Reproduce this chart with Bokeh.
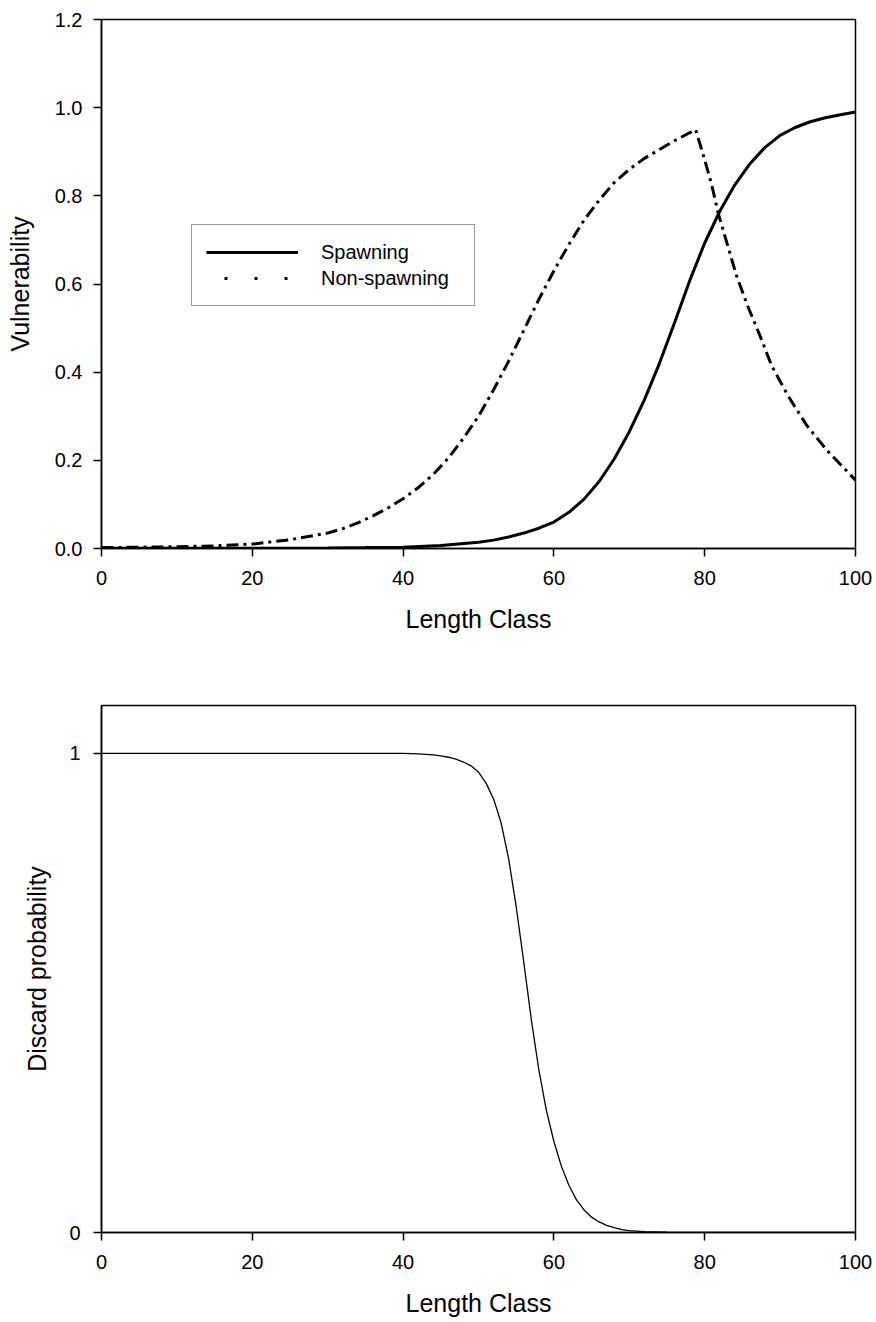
from bokeh.plotting import figure
from bokeh.models import (Range1d, FixedTicker, PrintfTickFormatter, Legend,
                          LegendItem, ColumnDataSource)
from bokeh.layouts import column
from bokeh.embed import file_html
from bokeh.resources import INLINE

# ---------------- data ----------------
x_ticks = [0, 20, 40, 60, 80, 100]
vuln_ticks = [0.0, 0.2, 0.4, 0.6, 0.8, 1.0, 1.2]
discard_ticks = [0, 1]

spawn_x = [0, 10, 20, 30, 35, 40, 45, 50, 52, 54, 56, 58, 60, 62, 64, 66, 68, 70,
           72, 74, 76, 78, 80, 82, 84, 86, 88, 90, 92, 94, 96, 98, 100]
spawn_y = [0.0005, 0.0006, 0.0008, 0.0012, 0.002, 0.003, 0.007, 0.014, 0.019,
           0.026, 0.035, 0.046, 0.06, 0.082, 0.112, 0.152, 0.203, 0.265, 0.337,
           0.42, 0.512, 0.607, 0.693, 0.765, 0.825, 0.873, 0.91, 0.937, 0.955,
           0.968, 0.977, 0.984, 0.99]

nonspawn_x = [0, 5, 10, 15, 20, 25, 30, 32, 34, 36, 38, 40, 42, 44, 46, 48, 50,
              52, 54, 56, 58, 60, 62, 64, 66, 68, 70, 72, 74, 76, 78, 78.8, 79.8,
              80.9, 81.8, 83, 84.2, 85.7, 87.3, 88.9, 91, 93.5, 96.2, 100]
nonspawn_y = [0.002, 0.003, 0.004, 0.006, 0.01, 0.02, 0.035, 0.045, 0.058, 0.074,
              0.092, 0.113, 0.138, 0.168, 0.205, 0.25, 0.30, 0.36, 0.425, 0.495,
              0.565, 0.63, 0.69, 0.745, 0.79, 0.83, 0.86, 0.885, 0.905, 0.925,
              0.943, 0.95, 0.893, 0.827, 0.76, 0.69, 0.62, 0.55, 0.484, 0.414,
              0.348, 0.28, 0.223, 0.155]

discard_x = [0, 10, 20, 30, 40, 42, 44, 45, 46, 47, 48, 49, 50, 51, 52, 53, 54,
             55, 56, 57, 58, 59, 60, 61, 62, 63, 64, 65, 66, 67, 68, 69, 70, 72,
             75, 80, 90, 100]
discard_y = [1.0, 1.0, 1.0, 1.0, 1.0, 0.999, 0.997, 0.995, 0.992, 0.988, 0.982,
             0.974, 0.961, 0.938, 0.905, 0.855, 0.78, 0.68, 0.565, 0.445, 0.34,
             0.255, 0.19, 0.138, 0.098, 0.068, 0.047, 0.032, 0.022, 0.015, 0.01,
             0.006, 0.004, 0.002, 0.0006, 0.0, 0.0, 0.0]

FONT = "Liberation Sans"
TICK_SIZE = "20px"
LABEL_SIZE = "25px"


def style(p, xlabel, ylabel):
    p.grid.visible = False
    p.outline_line_color = "black"
    p.outline_line_width = 1.5
    p.background_fill_color = "white"
    p.border_fill_color = "white"
    for ax in (p.xaxis[0], p.yaxis[0]):
        ax.axis_line_color = "black"
        ax.axis_line_width = 1.5
        ax.major_tick_line_color = "black"
        ax.major_tick_line_width = 1.5
        ax.major_tick_in = 0
        ax.major_tick_out = 8
        ax.minor_tick_line_color = None
        ax.major_label_text_font = FONT
        ax.major_label_text_font_size = TICK_SIZE
        ax.major_label_text_color = "black"
        ax.axis_label_text_font = FONT
        ax.axis_label_text_font_size = LABEL_SIZE
        ax.axis_label_text_font_style = "normal"
        ax.axis_label_text_color = "black"
    p.xaxis[0].axis_label = xlabel
    p.yaxis[0].axis_label = ylabel
    p.xaxis[0].ticker = FixedTicker(ticks=x_ticks)
    p.xaxis[0].major_label_standoff = 14
    p.xaxis[0].axis_label_standoff = 17
    p.yaxis[0].major_label_standoff = 11
    p.yaxis[0].axis_label_standoff = 18


# ---------------- top panel ----------------
p1 = figure(width=876, height=651, output_backend="svg", toolbar_location=None,
            x_range=Range1d(0, 100), y_range=Range1d(0, 1.2),
            min_border_left=101, min_border_right=21, min_border_top=19,
            min_border_bottom=103)
style(p1, "Length Class", "Vulnerability")
p1.yaxis[0].ticker = FixedTicker(ticks=vuln_ticks)
p1.yaxis[0].formatter = PrintfTickFormatter(format="%.1f")

src_s = ColumnDataSource(dict(x=spawn_x, y=spawn_y))
src_n = ColumnDataSource(dict(x=nonspawn_x, y=nonspawn_y))
r_s = p1.line("x", "y", source=src_s, line_color="black", line_width=3)
r_n = p1.line("x", "y", source=src_n, line_color="black", line_width=3,
              line_dash="12 5 3 5")
# renderer used only for the legend swatch (dotted, as in the reference key);
# its points lie outside the fixed ranges so nothing is drawn in the plot
r_key = p1.line(x=[-20, -10], y=[-1, -1], line_color="black", line_width=3,
                line_dash="3 27", line_dash_offset=12)

legend = Legend(items=[LegendItem(label="Spawning", renderers=[r_s]),
                       LegendItem(label="Non-spawning", renderers=[r_key])],
                location=(90, 242), orientation="vertical",
                glyph_width=92, glyph_height=26, label_height=26,
                label_standoff=23, label_width=139, padding=14, spacing=0,
                margin=0,
                label_text_font=FONT, label_text_font_size="20px",
                label_text_color="black",
                border_line_color="#333333", border_line_width=1.2,
                background_fill_color="white", background_fill_alpha=1)
p1.add_layout(legend)

# ---------------- bottom panel ----------------
p2 = figure(width=876, height=671, output_backend="svg", toolbar_location=None,
            x_range=Range1d(0, 100), y_range=Range1d(0, 1.1),
            min_border_left=101, min_border_right=21, min_border_top=54,
            min_border_bottom=90)
style(p2, "Length Class", "Discard probability")
p2.yaxis[0].ticker = FixedTicker(ticks=discard_ticks)
p2.yaxis[0].formatter = PrintfTickFormatter(format="%d")
p2.yaxis[0].major_label_standoff = 13
p2.yaxis[0].axis_label_standoff = 15

src_d = ColumnDataSource(dict(x=discard_x, y=discard_y))
p2.line("x", "y", source=src_d, line_color="black", line_width=1.3)

layout = column(p1, p2, spacing=0)
open("out.html", "w").write(file_html(layout, INLINE))
